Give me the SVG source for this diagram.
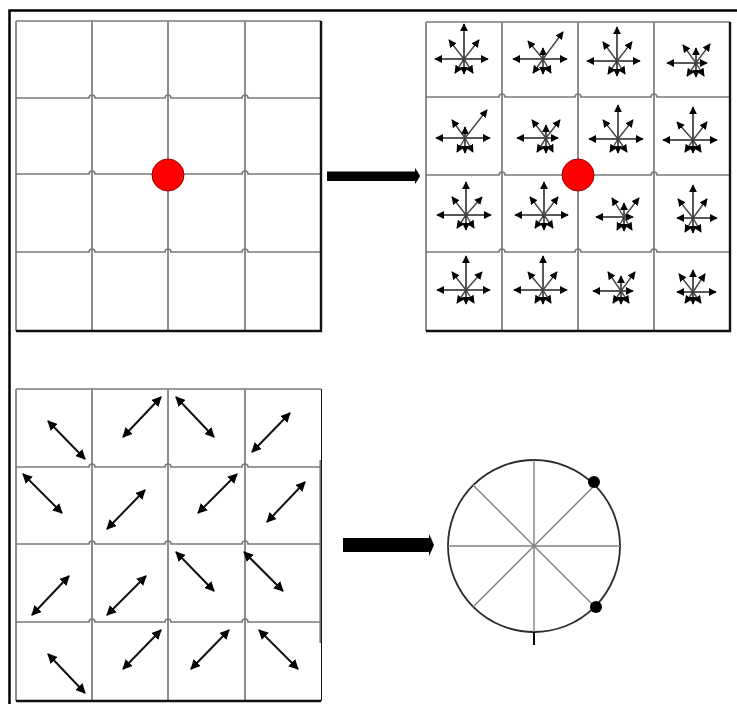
<svg xmlns="http://www.w3.org/2000/svg" width="737" height="704" viewBox="0 0 737 704">
<defs>
<marker id="ah" viewBox="0 0 10 10" refX="9" refY="5" markerWidth="8" markerHeight="8" markerUnits="userSpaceOnUse" orient="auto-start-reverse">
<path d="M0 0 L10 5 L0 10 z" fill="#000"/>
</marker>
<marker id="ah2" viewBox="0 0 10 10" refX="9" refY="5" markerWidth="10" markerHeight="10" markerUnits="userSpaceOnUse" orient="auto-start-reverse">
<path d="M0 0 L10 5 L0 10 z" fill="#000"/>
</marker>
</defs>
<style>
.gl{fill:none;stroke:#7a7a7a;stroke-width:1.7}
.ge{fill:none;stroke:#111;stroke-width:2.4}
.frame{fill:none;stroke:#000;stroke-width:2.5}
.v{stroke:#111;stroke-width:1.4;marker-end:url(#ah)}
.d{stroke:#444;stroke-width:1.4;marker-end:url(#ah)}
.da{stroke:#111;stroke-width:2;marker-start:url(#ah2);marker-end:url(#ah2)}
.spoke{stroke:#808080;stroke-width:1.4}
</style>
<rect width="737" height="704" fill="#fff"/>
<path class="frame" d="M9.5 704 V10.5 H737"/>

<g id="grid-top-left">
<path class="gl" d="M92 21 V331 M168 21 V331 M245 21 V331 M16 21 H321 M16 21 V331"/>
<path class="gl" d="M16 98 H89 a3 3 0 0 1 6 0 H165 a3 3 0 0 1 6 0 H242 a3 3 0 0 1 6 0 H321"/>
<path class="gl" d="M16 174 H89 a3 3 0 0 1 6 0 H242 a3 3 0 0 1 6 0 H321"/>
<path class="gl" d="M16 252 H89 a3 3 0 0 1 6 0 H165 a3 3 0 0 1 6 0 H242 a3 3 0 0 1 6 0 H321"/>
<path class="ge" d="M321 21 V331 H16"/>
<circle cx="168" cy="175" r="16" fill="#f00" stroke="#900" stroke-width="1"/>
</g>

<g id="grid-top-right">
<path class="gl" d="M502 22 V331 M578 22 V331 M654 22 V331 M426 22 H730 M426 22 V331"/>
<path class="gl" d="M426 97 H499 a3 3 0 0 1 6 0 H575 a3 3 0 0 1 6 0 H651 a3 3 0 0 1 6 0 H730"/>
<path class="gl" d="M426 175 H499 a3 3 0 0 1 6 0 H651 a3 3 0 0 1 6 0 H730"/>
<path class="gl" d="M426 252 H499 a3 3 0 0 1 6 0 H575 a3 3 0 0 1 6 0 H651 a3 3 0 0 1 6 0 H730"/>
<path class="ge" d="M730 22 V331 H426"/>
</g>

<g id="vectors">
<g id="s00">
<line class="v" x1="464" y1="59" x2="464" y2="24"/><line class="v" x1="464" y1="59" x2="435" y2="59"/><line class="v" x1="464" y1="59" x2="488" y2="59"/>
<line class="d" x1="464" y1="59" x2="449" y2="40"/><line class="d" x1="464" y1="59" x2="479" y2="40"/>
<line class="d" x1="464" y1="59" x2="455" y2="73"/><line class="v" x1="464" y1="59" x2="464" y2="74"/><line class="d" x1="464" y1="59" x2="473" y2="73"/>
</g>
<g id="s01">
<line class="v" x1="543" y1="59" x2="543" y2="48"/><line class="v" x1="543" y1="59" x2="513" y2="59"/><line class="v" x1="543" y1="59" x2="567" y2="59"/>
<line class="d" x1="543" y1="59" x2="528" y2="41"/><line class="d" x1="543" y1="59" x2="563" y2="32"/>
<line class="d" x1="543" y1="59" x2="533" y2="73"/><line class="v" x1="543" y1="59" x2="543" y2="74"/><line class="d" x1="543" y1="59" x2="551" y2="73"/>
</g>
<g id="s02">
<line class="v" x1="617" y1="61" x2="617" y2="27"/><line class="v" x1="617" y1="61" x2="587" y2="61"/><line class="v" x1="617" y1="61" x2="640" y2="61"/>
<line class="d" x1="617" y1="61" x2="603" y2="42"/><line class="d" x1="617" y1="61" x2="632" y2="42"/>
<line class="d" x1="617" y1="61" x2="608" y2="74"/><line class="v" x1="617" y1="61" x2="617" y2="76"/><line class="d" x1="617" y1="61" x2="625" y2="74"/>
</g>
<g id="s03">
<line class="v" x1="696" y1="63" x2="696" y2="48"/><line class="v" x1="696" y1="63" x2="667" y2="63"/><line class="v" x1="696" y1="63" x2="707" y2="63"/>
<line class="d" x1="696" y1="63" x2="683" y2="45"/><line class="d" x1="696" y1="63" x2="710" y2="44"/>
<line class="d" x1="696" y1="63" x2="687" y2="76"/><line class="v" x1="696" y1="63" x2="696" y2="77"/><line class="d" x1="696" y1="63" x2="704" y2="76"/>
</g>
<g id="s10">
<line class="v" x1="465" y1="138" x2="465" y2="127"/><line class="v" x1="465" y1="138" x2="436" y2="138"/><line class="v" x1="465" y1="138" x2="490" y2="138"/>
<line class="d" x1="465" y1="138" x2="452" y2="120"/><line class="d" x1="465" y1="138" x2="487" y2="110"/>
<line class="d" x1="465" y1="138" x2="457" y2="152"/><line class="v" x1="465" y1="138" x2="465" y2="153"/><line class="d" x1="465" y1="138" x2="473" y2="152"/>
</g>
<g id="s11">
<line class="v" x1="546" y1="138" x2="546" y2="125"/><line class="v" x1="546" y1="138" x2="517" y2="138"/><line class="v" x1="546" y1="138" x2="558" y2="138"/>
<line class="d" x1="546" y1="138" x2="532" y2="120"/><line class="d" x1="546" y1="138" x2="560" y2="120"/>
<line class="d" x1="546" y1="138" x2="537" y2="152"/><line class="v" x1="546" y1="138" x2="546" y2="153"/><line class="d" x1="546" y1="138" x2="553" y2="152"/>
</g>
<g id="s12">
<line class="v" x1="618" y1="139" x2="618" y2="105"/><line class="v" x1="618" y1="139" x2="589" y2="139"/><line class="v" x1="618" y1="139" x2="643" y2="139"/>
<line class="d" x1="618" y1="139" x2="603" y2="120"/><line class="d" x1="618" y1="139" x2="633" y2="120"/>
<line class="d" x1="618" y1="139" x2="610" y2="152"/><line class="v" x1="618" y1="139" x2="618" y2="153"/><line class="d" x1="618" y1="139" x2="627" y2="152"/>
</g>
<g id="s13">
<line class="v" x1="693" y1="140" x2="693" y2="107"/><line class="v" x1="693" y1="140" x2="663" y2="140"/><line class="v" x1="693" y1="140" x2="717" y2="140"/>
<line class="d" x1="693" y1="140" x2="677" y2="122"/><line class="d" x1="693" y1="140" x2="707" y2="122"/>
<line class="d" x1="693" y1="140" x2="685" y2="152"/><line class="v" x1="693" y1="140" x2="693" y2="153"/><line class="d" x1="693" y1="140" x2="701" y2="152"/>
</g>
<g id="s20">
<line class="v" x1="466" y1="215" x2="466" y2="182"/><line class="v" x1="466" y1="215" x2="437" y2="215"/><line class="v" x1="466" y1="215" x2="491" y2="215"/>
<line class="d" x1="466" y1="215" x2="452" y2="197"/><line class="d" x1="466" y1="215" x2="482" y2="197"/>
<line class="d" x1="466" y1="215" x2="457" y2="228"/><line class="v" x1="466" y1="215" x2="466" y2="230"/><line class="d" x1="466" y1="215" x2="474" y2="228"/>
</g>
<g id="s21">
<line class="v" x1="544" y1="215" x2="544" y2="182"/><line class="v" x1="544" y1="215" x2="515" y2="215"/><line class="v" x1="544" y1="215" x2="568" y2="215"/>
<line class="d" x1="544" y1="215" x2="530" y2="197"/><line class="d" x1="544" y1="215" x2="558" y2="197"/>
<line class="d" x1="544" y1="215" x2="535" y2="228"/><line class="v" x1="544" y1="215" x2="544" y2="230"/><line class="d" x1="544" y1="215" x2="553" y2="228"/>
</g>
<g id="s22">
<line class="v" x1="624" y1="217" x2="624" y2="203"/><line class="v" x1="624" y1="217" x2="596" y2="217"/><line class="v" x1="624" y1="217" x2="633" y2="217"/>
<line class="d" x1="624" y1="217" x2="612" y2="198"/><line class="d" x1="624" y1="217" x2="639" y2="198"/>
<line class="d" x1="624" y1="217" x2="617" y2="230"/><line class="v" x1="624" y1="217" x2="624" y2="231"/><line class="d" x1="624" y1="217" x2="632" y2="230"/>
</g>
<g id="s23">
<line class="v" x1="693" y1="218" x2="693" y2="185"/><line class="v" x1="693" y1="218" x2="677" y2="218"/><line class="v" x1="693" y1="218" x2="717" y2="218"/>
<line class="d" x1="693" y1="218" x2="678" y2="199"/><line class="d" x1="693" y1="218" x2="707" y2="199"/>
<line class="d" x1="693" y1="218" x2="685" y2="232"/><line class="v" x1="693" y1="218" x2="693" y2="233"/><line class="d" x1="693" y1="218" x2="701" y2="232"/>
</g>
<g id="s30">
<line class="v" x1="466" y1="290" x2="466" y2="256"/><line class="v" x1="466" y1="290" x2="437" y2="290"/><line class="v" x1="466" y1="290" x2="490" y2="290"/>
<line class="d" x1="466" y1="290" x2="452" y2="272"/><line class="d" x1="466" y1="290" x2="482" y2="272"/>
<line class="d" x1="466" y1="290" x2="457" y2="303"/><line class="v" x1="466" y1="290" x2="466" y2="304"/><line class="d" x1="466" y1="290" x2="474" y2="303"/>
</g>
<g id="s31">
<line class="v" x1="543" y1="290" x2="543" y2="256"/><line class="v" x1="543" y1="290" x2="514" y2="290"/><line class="v" x1="543" y1="290" x2="567" y2="290"/>
<line class="d" x1="543" y1="290" x2="528" y2="272"/><line class="d" x1="543" y1="290" x2="557" y2="272"/>
<line class="d" x1="543" y1="290" x2="535" y2="303"/><line class="v" x1="543" y1="290" x2="543" y2="304"/><line class="d" x1="543" y1="290" x2="551" y2="303"/>
</g>
<g id="s32">
<line class="v" x1="621" y1="291" x2="621" y2="276"/><line class="v" x1="621" y1="291" x2="593" y2="291"/><line class="v" x1="621" y1="291" x2="633" y2="291"/>
<line class="d" x1="621" y1="291" x2="608" y2="272"/><line class="d" x1="621" y1="291" x2="635" y2="272"/>
<line class="d" x1="621" y1="291" x2="613" y2="303"/><line class="v" x1="621" y1="291" x2="621" y2="304"/><line class="d" x1="621" y1="291" x2="629" y2="303"/>
</g>
<g id="s33">
<line class="v" x1="693" y1="292" x2="693" y2="270"/><line class="v" x1="693" y1="292" x2="677" y2="292"/><line class="v" x1="693" y1="292" x2="716" y2="292"/>
<line class="d" x1="693" y1="292" x2="679" y2="274"/><line class="d" x1="693" y1="292" x2="705" y2="274"/>
<line class="d" x1="693" y1="292" x2="685" y2="303"/><line class="v" x1="693" y1="292" x2="693" y2="304"/><line class="d" x1="693" y1="292" x2="701" y2="303"/>
</g>
</g>
<circle cx="578" cy="175" r="16" fill="#f00" stroke="#900" stroke-width="1"/>

<g id="grid-bottom-left">
<path class="gl" d="M92 389 V701 M168 389 V701 M245 389 V701 M16 389 H321 M16 389 V701"/>
<path class="gl" d="M16 467 H89 a3 3 0 0 1 6 0 H165 a3 3 0 0 1 6 0 H242 a3 3 0 0 1 6 0 H321"/>
<path class="gl" d="M16 544 H89 a3 3 0 0 1 6 0 H165 a3 3 0 0 1 6 0 H242 a3 3 0 0 1 6 0 H321"/>
<path class="gl" d="M16 622 H89 a3 3 0 0 1 6 0 H165 a3 3 0 0 1 6 0 H242 a3 3 0 0 1 6 0 H321"/>
<path d="M320.5 460 V643" stroke="#777" stroke-width="2.2" fill="none"/>
<path d="M321.5 389 V701" stroke="#111" stroke-width="1" fill="none"/>
<path class="ge" d="M16 701 H321"/>
<g id="pairs">
<line class="da" x1="48" y1="421" x2="85" y2="459"/>
<line class="da" x1="161" y1="397" x2="123" y2="437"/>
<line class="da" x1="176" y1="397" x2="214" y2="437"/>
<line class="da" x1="290" y1="413" x2="252" y2="452"/>
<line class="da" x1="23" y1="474" x2="62" y2="513"/>
<line class="da" x1="145" y1="490" x2="107" y2="529"/>
<line class="da" x1="237" y1="474" x2="198" y2="513"/>
<line class="da" x1="305" y1="482" x2="267" y2="522"/>
<line class="da" x1="69" y1="576" x2="32" y2="615"/>
<line class="da" x1="146" y1="576" x2="107" y2="615"/>
<line class="da" x1="176" y1="552" x2="214" y2="591"/>
<line class="da" x1="244" y1="552" x2="283" y2="591"/>
<line class="da" x1="48" y1="654" x2="85" y2="693"/>
<line class="da" x1="161" y1="630" x2="123" y2="669"/>
<line class="da" x1="229" y1="630" x2="191" y2="669"/>
<line class="da" x1="259" y1="630" x2="298" y2="669"/>
</g>
</g>

<g id="connectors">
<path id="arrow-top" d="M327 171.5 H415 V168 Q418 172 420 176 Q418 180 415 184 V181 H327 Z" fill="#000"/>
<path id="arrow-bottom" d="M343 538 H429 V534 Q432 540 434 545 Q432 550 429 556 V552 H343 Z" fill="#000"/>
</g>

<g id="circle-node">
<circle cx="534" cy="546" r="86" fill="#fff" stroke="#2a2a2a" stroke-width="1.8"/>
<line class="spoke" x1="534" y1="460" x2="534" y2="632"/>
<line class="spoke" x1="448" y1="546" x2="620" y2="546"/>
<line class="spoke" x1="473" y1="485" x2="595" y2="607"/>
<line class="spoke" x1="473" y1="607" x2="595" y2="485"/>
<line x1="534" y1="632" x2="534" y2="645" stroke="#000" stroke-width="2"/>
<circle cx="594" cy="482" r="6" fill="#000"/>
<circle cx="596" cy="607" r="6" fill="#000"/>
</g>
</svg>
